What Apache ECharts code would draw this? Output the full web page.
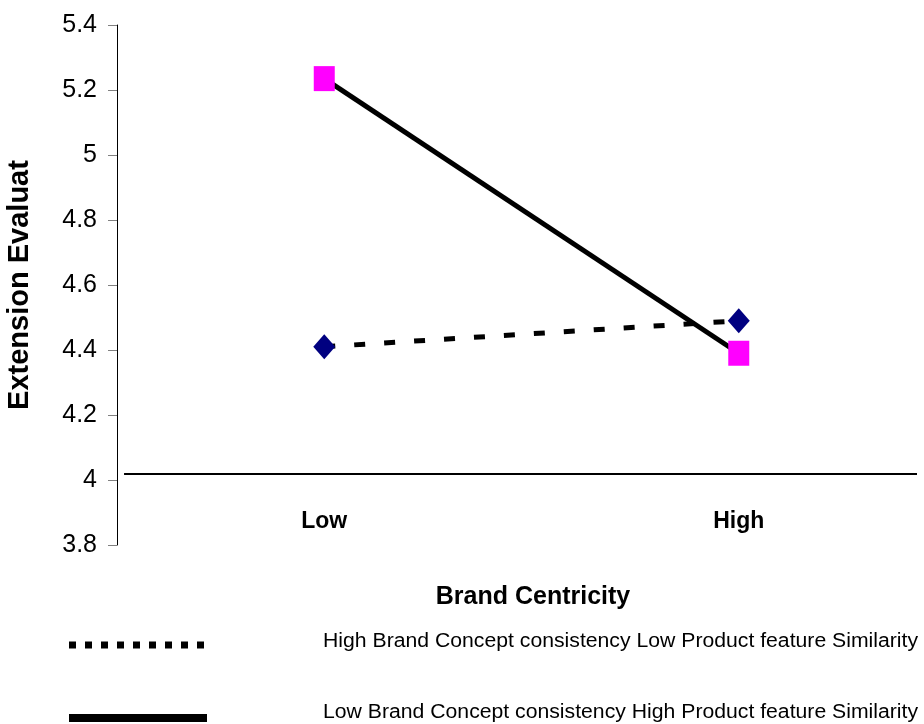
<!DOCTYPE html>
<html>
<head>
<meta charset="utf-8">
<script src="https://cdn.jsdelivr.net/npm/echarts@6/dist/echarts.min.js"></script>
<style>
  html, body { margin: 0; padding: 0; background: #fff; }
  #chart { width: 924px; height: 724px; }
</style>
</head>
<body>
<div id="chart"></div>
<script>
// 数据
const categories = ['Low', 'High']
const highConceptLowFeature = [4.41, 4.49]   // 虚线 + 菱形
const lowConceptHighFeature = [5.235, 4.39]  // 实线 + 方块
const baseLineValue = 4.02                   // 图中的横线
const legendNames = [
  'High Brand Concept consistency Low Product feature Similarity',
  'Low Brand Concept consistency High Product feature Similarity'
]

const FONT = 'Liberation Sans, Arial, sans-serif'

const chart = echarts.init(document.getElementById('chart'))

chart.setOption({
  backgroundColor: '#fff',
  animation: false,
  grid: { left: 117, right: 7, top: 25, bottom: 179, outerBoundsMode: 'none' },
  xAxis: {
    type: 'value',
    min: -0.5,
    max: 1.43,
    splitLine: { show: false },
    axisLine: { show: false },
    axisTick: { show: false },
    axisLabel: {
      inside: true,
      margin: 12,
      customValues: [0, 1],
      formatter: function(v) { return categories[Math.round(v)] },
      fontFamily: FONT,
      fontSize: 23,
      fontWeight: 'bold',
      color: '#000'
    },
    name: 'Brand Centricity',
    nameLocation: 'middle',
    nameGap: 40,
    nameTextStyle: {
      fontFamily: FONT,
      fontSize: 25,
      fontWeight: 'bold',
      color: '#000',
      padding: [0, 0, 0, 32]
    }
  },
  yAxis: {
    type: 'value',
    min: 3.8,
    max: 5.4,
    interval: 0.2,
    splitLine: { show: false },
    axisLine: { show: true, onZero: false, lineStyle: { color: '#000', width: 1 } },
    axisTick: { show: true, length: 9, lineStyle: { color: '#808080' } },
    axisLabel: {
      margin: 20,
      fontFamily: FONT,
      fontSize: 25,
      color: '#000'
    },
    name: 'Extension Evaluat',
    nameLocation: 'middle',
    nameGap: 83,
    nameTextStyle: {
      fontFamily: FONT,
      fontSize: 29,
      fontWeight: 'bold',
      color: '#000'
    }
  },
  series: [
    {
      name: legendNames[0],
      type: 'line',
      data: highConceptLowFeature.map((v, i) => [i, v]),
      symbol: 'diamond',
      symbolSize: [22, 25],
      itemStyle: { color: '#000080' },
      lineStyle: { color: '#000', width: 5, type: [11, 19] },
      z: 3,
      markLine: {
        silent: true,
        symbol: 'none',
        label: { show: false },
        lineStyle: { color: '#000', width: 2, type: 'solid' },
        data: [[{ coord: [-0.483, baseLineValue] }, { coord: [1.43, baseLineValue] }]]
      }
    },
    {
      name: legendNames[1],
      type: 'line',
      data: lowConceptHighFeature.map((v, i) => [i, v]),
      symbol: 'rect',
      symbolSize: [21, 25],
      itemStyle: { color: '#FF00FF' },
      lineStyle: { color: '#000', width: 5, type: 'solid' },
      z: 4
    }
  ],
  graphic: [
    // 图例
    {
      type: 'line',
      shape: { x1: 69, y1: 645, x2: 206, y2: 645 },
      style: { stroke: '#000', lineWidth: 7, lineDash: [7, 9] }
    },
    {
      type: 'line',
      shape: { x1: 69, y1: 718, x2: 207, y2: 718 },
      style: { stroke: '#000', lineWidth: 8 }
    },
    {
      type: 'text',
      x: 323,
      y: 641,
      scaleX: 1.06,
      style: { text: legendNames[0], x: 0, y: 0, verticalAlign: 'middle', font: '20px ' + FONT, fill: '#000' }
    },
    {
      type: 'text',
      x: 323,
      y: 712,
      scaleX: 1.06,
      style: { text: legendNames[1], x: 0, y: 0, verticalAlign: 'middle', font: '20px ' + FONT, fill: '#000' }
    }
  ]
})
</script>
</body>
</html>
